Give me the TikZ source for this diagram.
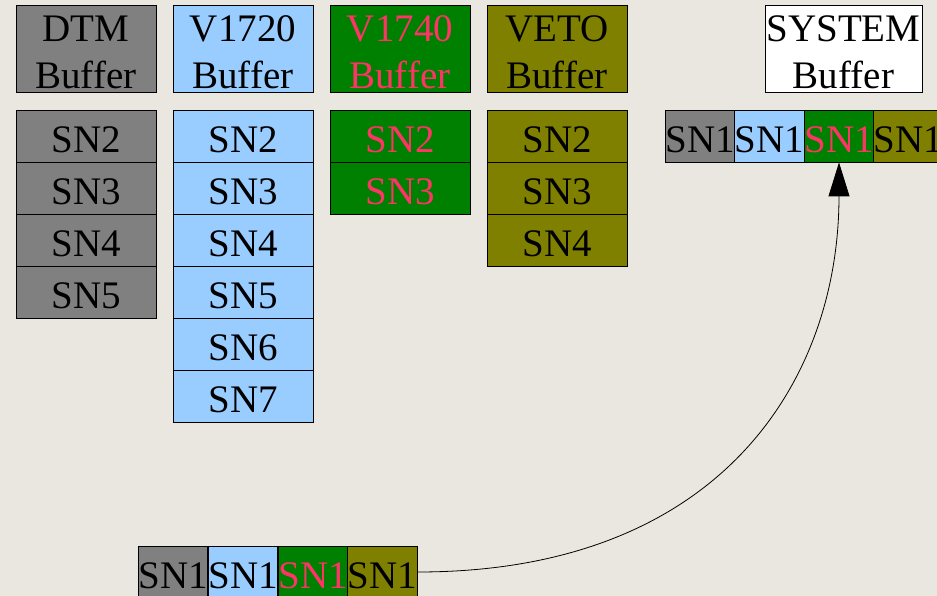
\documentclass[tikz,border=0pt]{standalone}
\usepackage{fontspec}
\setmainfont{Liberation Serif}
\newfontfamily\timesx{Liberation Serif}
\usetikzlibrary{arrows.meta,calc}
\definecolor{bgc}{HTML}{EAE7E1}
\definecolor{dtmc}{HTML}{808080}
\definecolor{vtwc}{HTML}{99CCFF}
\definecolor{vfoc}{HTML}{008000}
\definecolor{vetoc}{HTML}{808000}
\definecolor{redtxt}{HTML}{FF3366}
\newcommand\twolines[2]{\vtop{\baselineskip=46.6pt\halign{\hfil##\hfil\cr#1\cr#2\cr}}}
\tikzset{
  bigfont/.style={font=\timesx\fontsize{39}{46.6}\selectfont},
  cell/.style={draw=black, line width=0.8pt, inner sep=0pt, minimum width=140pt,
    minimum height=52pt, bigfont, text height=33pt, text depth=0pt},
  head/.style={draw=black, line width=0.8pt, inner sep=0pt, minimum width=140pt,
    minimum height=87pt, bigfont, text height=0pt, text depth=13.6pt},
  sncell/.style={cell, minimum width=69.6pt},
  dtmfill/.style={fill=dtmc},
  vtwfill/.style={fill=vtwc},
  vfofill/.style={fill=vfoc, text=redtxt},
  vetofill/.style={fill=vetoc},
  link/.style={line width=0.8pt, -{Triangle[length=34pt,width=21pt]}}
}
\begin{document}
\begin{tikzpicture}[x=1pt,y=-1pt]
\clip (0,0) rectangle (937,596);
\fill[bgc] (0,0) rectangle (937,596);
% headers
\node[head,dtmfill] (hdtm) at (86,48.5) {\twolines{DTM}{Buffer}};
\node[head,vtwfill] (hvtw) at (243,48.5) {\twolines{V1720}{Buffer}};
\node[head,vfofill] (hvfo) at (400,48.5) {\twolines{V1740}{Buffer}};
\node[head,vetofill] (hveto) at (557,48.5) {\twolines{VETO}{Buffer}};
\node[head,fill=white,minimum width=157pt] (hsys) at (843.5,48.5) {\twolines{SYSTEM}{Buffer}};
% stacks
\foreach \i in {2,...,5} { \node[cell,dtmfill] (dtm\i) at (86,{136+52*(\i-2)}) {SN\i}; }
\foreach \i in {2,...,7} { \node[cell,vtwfill] (vtw\i) at (243,{136+52*(\i-2)}) {SN\i}; }
\foreach \i in {2,3} { \node[cell,vfofill] (vfo\i) at (400,{136+52*(\i-2)}) {SN\i}; }
\foreach \i in {2,...,4} { \node[cell,vetofill] (veto\i) at (557,{136+52*(\i-2)}) {SN\i}; }
% system row
\node[sncell,dtmfill] (r1) at (700,136) {SN1};
\node[sncell,vtwfill] (r2) at (769.5,136) {SN1};
\node[sncell,vfofill] (r3) at (839,136) {SN1};
\node[sncell,vetofill] (r4) at (908.5,136) {SN1};
% bottom row
\node[sncell,dtmfill] (b1) at (173,572) {SN1};
\node[sncell,vtwfill] (b2) at (243,572) {SN1};
\node[sncell,vfofill] (b3) at (313,572) {SN1};
\node[sncell,vetofill] (b4) at (382.5,572) {SN1};
% connector
\draw[link] (b4.east) .. controls ($(b4.east)+(304,0)$) and ($(r3.south)+(0,217)$) .. (r3.south);
\end{tikzpicture}
\end{document}
